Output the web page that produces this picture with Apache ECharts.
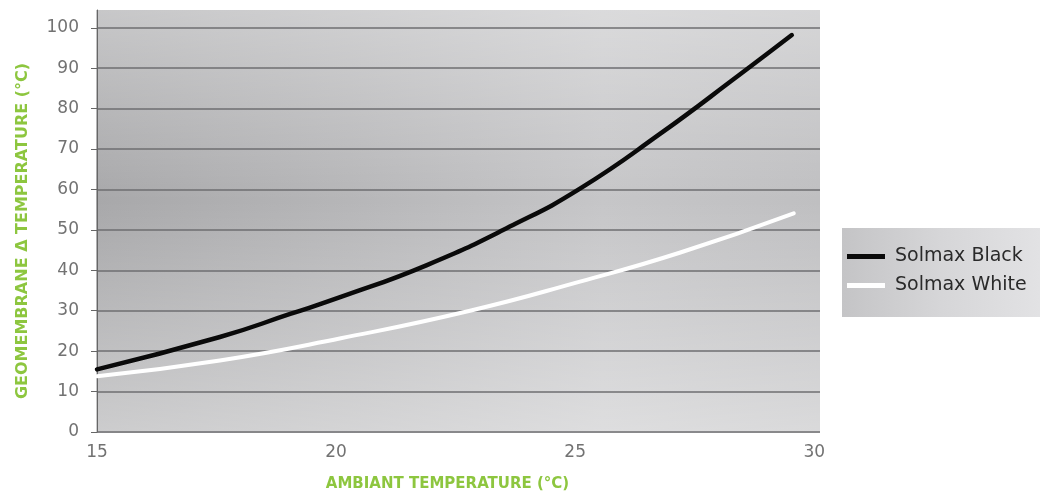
<!DOCTYPE html>
<html>
<head>
<meta charset="utf-8">
<style>
  html, body { margin: 0; padding: 0; background: #ffffff; }
  #chart { width: 1040px; height: 497px; }
</style>
<script src="https://cdn.jsdelivr.net/npm/echarts@6/dist/echarts.min.js"></script>
</head>
<body>
<div id="chart"></div>
<script>
// ---- data ----
const seriesNames = ['Solmax Black', 'Solmax White'];
const blackX = [15, 17.57, 19.04, 20.1, 21.9, 23.7, 25.1, 26.78, 28.45, 29.53];
const blackY = [15.5, 23.5, 29.2, 33.4, 41.3, 51.2, 60.2, 73.8, 88.5, 98.2];
const whiteX = [15, 17.57, 20.1, 22.8, 25.1, 27.2, 29.57];
const whiteY = [13.8, 17.7, 23.2, 30.0, 37.2, 44.4, 54.1];
const xTitle = 'AMBIANT TEMPERATURE (°C)';
const yTitle = 'GEOMEMBRANE Δ TEMPERATURE (°C)';

const chart = echarts.init(document.getElementById('chart'), null, { renderer: 'canvas' });

const FONT = '"DejaVu Sans", "Open Sans", sans-serif';
const GRID = { left: 97, top: 10, right: 220, bottom: 64 };

const option = {
  animation: false,
  backgroundColor: '#ffffff',
  grid: { left: GRID.left, top: GRID.top, right: GRID.right, bottom: GRID.bottom, containLabel: false },
  graphic: [
    {
      type: 'rect', z: -10, silent: true,
      shape: { x: 96, y: 10, width: 724, height: 423 },
      style: {
        fill: new echarts.graphic.LinearGradient(0, 0, 1, 0, [
          { offset: 0, color: '#a8a8aa' },
          { offset: 0.35, color: '#b6b6b8' },
          { offset: 0.7, color: '#c6c6c8' },
          { offset: 1, color: '#bfbfc1' }
        ])
      }
    },
    {
      type: 'rect', z: -9, silent: true,
      shape: { x: 96, y: 10, width: 724, height: 423 },
      style: {
        fill: new echarts.graphic.LinearGradient(0, 0, 0, 1, [
          { offset: 0, color: 'rgba(255,255,255,0.36)' },
          { offset: 0.45, color: 'rgba(255,255,255,0.0)' },
          { offset: 1, color: 'rgba(255,255,255,0.42)' }
        ])
      }
    },
    {
      type: 'rect', z: -8, silent: true,
      shape: { x: 842, y: 228, width: 198, height: 89 },
      style: {
        fill: new echarts.graphic.LinearGradient(0, 0, 1, 0, [
          { offset: 0, color: '#c4c4c6' },
          { offset: 0.5, color: '#d6d6d8' },
          { offset: 1, color: '#e2e2e4' }
        ])
      }
    }
  ],
  legend: {
    left: 847,
    top: 247,
    padding: 0,
    orient: 'vertical',
    itemGap: 10,
    itemWidth: 38,
    itemHeight: 5,
    icon: 'rect',
    textStyle: { fontFamily: FONT, fontSize: 19, color: '#2a2a2a', padding: [0, 0, 0, 5] },
    data: [
      { name: seriesNames[0], itemStyle: { color: '#0a0a0a' } },
      { name: seriesNames[1], itemStyle: { color: '#ffffff' } }
    ]
  },
  xAxis: {
    type: 'value',
    min: 15,
    max: 30.12,
    interval: 5,
    name: xTitle,
    nameLocation: 'middle',
    nameGap: 45,
    nameTextStyle: { fontFamily: FONT, fontSize: 15, fontWeight: 'bold', color: '#8dc63f', padding: [0, 22, 0, 0] },
    axisLine: { show: false },
    axisTick: { show: false },
    splitLine: { show: false },
    axisLabel: { showMaxLabel: false, margin: 12, fontFamily: FONT, fontSize: 17, color: '#727272' }
  },
  yAxis: {
    type: 'value',
    min: 0,
    max: 104.4,
    interval: 10,
    name: yTitle,
    nameLocation: 'middle',
    nameRotate: 90,
    nameGap: 66,
    nameTextStyle: { fontFamily: FONT, fontSize: 16, fontWeight: 'bold', color: '#8dc63f', padding: [0, 20, 0, 0] },
    axisLine: { show: true, lineStyle: { color: '#666666', width: 1 } },
    axisTick: { show: true, length: 6, lineStyle: { color: '#666666', width: 1 } },
    splitLine: { show: true, showMaxLine: false, lineStyle: { color: '#6e6e70', width: 1.5 } },
    axisLabel: { showMaxLabel: false, margin: 18, fontFamily: FONT, fontSize: 17, color: '#727272' }
  },
  series: [
    {
      name: seriesNames[0],
      type: 'line',
      smooth: 0.5,
      symbol: 'none',
      data: blackX.map((x, i) => [x, blackY[i]]),
      lineStyle: { color: '#0a0a0a', width: 4.5, cap: 'round' },
      itemStyle: { color: '#0a0a0a' },
      z: 3
    },
    {
      name: seriesNames[1],
      type: 'line',
      smooth: 0.5,
      symbol: 'none',
      data: whiteX.map((x, i) => [x, whiteY[i]]),
      lineStyle: { color: '#ffffff', width: 4, cap: 'round' },
      itemStyle: { color: '#ffffff' },
      z: 2
    }
  ]
};

chart.setOption(option);
</script>
</body>
</html>
